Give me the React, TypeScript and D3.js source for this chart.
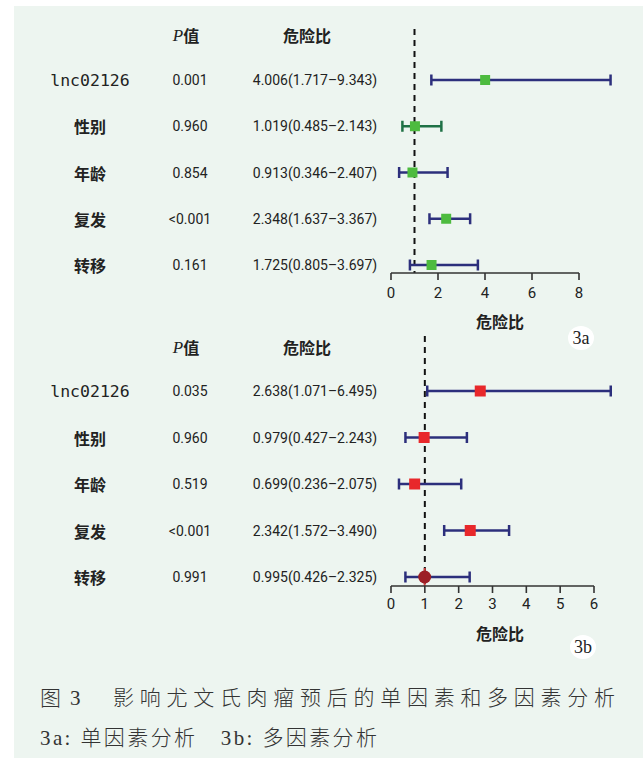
import React from "react";
import * as d3 from "d3";

// Factors shared by both Cox regression panels
const factors = ["lnc02126", "性别", "年龄", "复发", "转移"];

// Univariate analysis (3a)
const uniP = ["0.001", "0.960", "0.854", "<0.001", "0.161"];
const uniHR = [4.006, 1.019, 0.913, 2.348, 1.725];
const uniLow = [1.717, 0.485, 0.346, 1.637, 0.805];
const uniHigh = [9.343, 2.143, 2.407, 3.367, 3.697];
const uniTicks = [0, 2, 4, 6, 8];

// Multivariate analysis (3b)
const multiP = ["0.035", "0.960", "0.519", "<0.001", "0.991"];
const multiHR = [2.638, 0.979, 0.699, 2.342, 0.995];
const multiLow = [1.071, 0.427, 0.236, 1.572, 0.426];
const multiHigh = [6.495, 2.243, 2.075, 3.49, 2.325];
const multiTicks = [0, 1, 2, 3, 4, 5, 6];

const W = 643;
const H = 758;
const NAVY = "#2c2f7c";
const TEXT = "#222";
const NUM_FONT = "Roboto, 'Noto Sans', sans-serif";
const CJK_BOLD = "'Noto Sans CJK SC', 'Noto Sans', sans-serif";
const CAPTION_FONT = "'Liberation Serif', 'Noto Sans CJK SC', serif";

const fmt = (v: number) => v.toFixed(3);

type PanelProps = {
  top: number; // y of header row
  rowFirst: number;
  rowLast: number;
  axisY: number;
  domainMax: number;
  rangeMax: number;
  ticks: number[];
  pvals: string[];
  hr: number[];
  low: number[];
  high: number[];
  dashTop: number;
  tickLabelOffset: number;
  titleY: number;
  tag: string;
  tagX: number;
  tagY: number;
  marker: (i: number, x: number, y: number) => React.ReactNode;
  whiskerColor: (i: number) => string;
};

function Panel(p: PanelProps) {
  const x = d3.scaleLinear().domain([0, p.domainMax]).range([391, p.rangeMax]);
  const y = d3
    .scaleLinear()
    .domain([0, factors.length - 1])
    .range([p.rowFirst, p.rowLast]);
  const x1 = x(1);
  return (
    <g>
      {/* column headers */}
      <text
        x={186}
        y={p.top}
        textAnchor="middle"
        dominantBaseline="central"
        fill={TEXT}
        fontSize={17}
      >
        <tspan fontFamily="'Liberation Serif', serif" fontStyle="italic">
          P
        </tspan>
        <tspan fontFamily={CJK_BOLD} fontWeight={700} fontSize={16}>
          值
        </tspan>
      </text>
      <text
        x={307}
        y={p.top}
        textAnchor="middle"
        dominantBaseline="central"
        fill={TEXT}
        fontFamily={CJK_BOLD}
        fontWeight={700}
        fontSize={16}
      >
        危险比
      </text>

      {/* reference line at HR = 1 */}
      <line
        x1={x1}
        x2={x1}
        y1={p.dashTop}
        y2={p.axisY}
        stroke="#111"
        strokeWidth={2}
        strokeDasharray="6 5"
      />

      {factors.map((f, i) => {
        const yy = y(i);
        const isLnc = i === 0;
        return (
          <g key={f}>
            <text
              x={90}
              y={yy}
              textAnchor="middle"
              dominantBaseline="central"
              fill={TEXT}
              fontFamily={isLnc ? "'DejaVu Sans Mono', monospace" : CJK_BOLD}
              fontWeight={isLnc ? 400 : 700}
              fontSize={isLnc ? 16.5 : 16}
            >
              {f}
            </text>
            <text
              x={190}
              y={yy}
              textAnchor="middle"
              dominantBaseline="central"
              fill={TEXT}
              fontFamily={NUM_FONT}
              fontSize={14}
            >
              {p.pvals[i]}
            </text>
            <text
              x={315}
              y={yy}
              textAnchor="middle"
              dominantBaseline="central"
              fill={TEXT}
              fontFamily={NUM_FONT}
              fontSize={14}
            >
              {`${fmt(p.hr[i])}(${fmt(p.low[i])}–${fmt(p.high[i])})`}
            </text>
            {/* confidence interval with caps */}
            <g stroke={p.whiskerColor(i)} strokeWidth={2.5}>
              <line x1={x(p.low[i])} x2={x(p.high[i])} y1={yy} y2={yy} />
              <line x1={x(p.low[i])} x2={x(p.low[i])} y1={yy - 5.5} y2={yy + 5.5} />
              <line x1={x(p.high[i])} x2={x(p.high[i])} y1={yy - 5.5} y2={yy + 5.5} />
            </g>
            {p.marker(i, x(p.hr[i]), yy)}
          </g>
        );
      })}

      {/* x axis */}
      <g stroke="#333" strokeWidth={1.6} fill="none">
        <line x1={x(0)} x2={x(p.domainMax)} y1={p.axisY} y2={p.axisY} />
        {p.ticks.map((t) => (
          <line key={t} x1={x(t)} x2={x(t)} y1={p.axisY} y2={p.axisY + 7} />
        ))}
      </g>
      {p.ticks.map((t) => (
        <text
          key={t}
          x={x(t)}
          y={p.axisY + p.tickLabelOffset}
          textAnchor="middle"
          dominantBaseline="central"
          fill={TEXT}
          fontFamily={NUM_FONT}
          fontSize={15}
        >
          {d3.format("d")(t)}
        </text>
      ))}
      <text
        x={500}
        y={p.titleY}
        textAnchor="middle"
        dominantBaseline="central"
        fill={TEXT}
        fontFamily={CJK_BOLD}
        fontWeight={700}
        fontSize={16}
      >
        危险比
      </text>

      {/* panel tag */}
      <ellipse cx={p.tagX} cy={p.tagY} rx={13} ry={12} fill="#fff" />
      <text
        x={p.tagX}
        y={p.tagY}
        textAnchor="middle"
        dominantBaseline="central"
        fill="#222"
        fontFamily="'Liberation Serif', serif"
        fontSize={18}
      >
        {p.tag}
      </text>
    </g>
  );
}

export default function App() {
  return (
    <svg
      width={W}
      height={H}
      viewBox={`0 0 ${W} ${H}`}
      style={{ position: "absolute", left: 0, top: 0, display: "block" }}
    >
      <rect x={0} y={0} width={W} height={H} fill="#fff" />
      <rect x={14} y={6} width={W - 14} height={H - 6} fill="#edf5f0" />

      <Panel
        top={35}
        rowFirst={80}
        rowLast={265}
        axisY={273}
        domainMax={8}
        rangeMax={579}
        ticks={uniTicks}
        pvals={uniP}
        hr={uniHR}
        low={uniLow}
        high={uniHigh}
        dashTop={29}
        tickLabelOffset={20}
        titleY={321}
        tag="3a"
        tagX={581}
        tagY={338}
        whiskerColor={(i) => (i === 1 ? "#1f7146" : NAVY)}
        marker={(i, cx, cy) => (
          <rect x={cx - 5} y={cy - 5} width={10} height={10} fill="#4dbb3f" />
        )}
      />

      <Panel
        top={347}
        rowFirst={391}
        rowLast={577}
        axisY={586}
        domainMax={6}
        rangeMax={594}
        ticks={multiTicks}
        pvals={multiP}
        hr={multiHR}
        low={multiLow}
        high={multiHigh}
        dashTop={336}
        tickLabelOffset={18}
        titleY={633}
        tag="3b"
        tagX={583}
        tagY={647}
        whiskerColor={() => NAVY}
        marker={(i, cx, cy) =>
          i === factors.length - 1 ? (
            <g>
              <line x1={cx} x2={cx} y1={cy - 9} y2={cy + 9} stroke="#d2403f" strokeWidth={2} />
              <circle cx={cx} cy={cy} r={6.5} fill="#9c1f26" />
            </g>
          ) : (
            <rect x={cx - 5.5} y={cy - 5.5} width={11} height={11} fill="#e8282b" />
          )
        }
      />

      {/* figure caption */}
      <g fill="#333" fontFamily={CAPTION_FONT} fontWeight={300} fontSize={21}>
        <text x={40} y={698} dominantBaseline="central">
          图
        </text>
        <text x={70} y={698} dominantBaseline="central">
          3
        </text>
        <text
          x={113}
          y={698}
          dominantBaseline="central"
          textLength={502}
          lengthAdjust="spacing"
        >
          影响尤文氏肉瘤预后的单因素和多因素分析
        </text>
        <text
          x={40}
          y={738}
          dominantBaseline="central"
          textLength={337}
          lengthAdjust="spacing"
        >
          {"3a: 单因素分析\u30003b: 多因素分析"}
        </text>
      </g>
    </svg>
  );
}
